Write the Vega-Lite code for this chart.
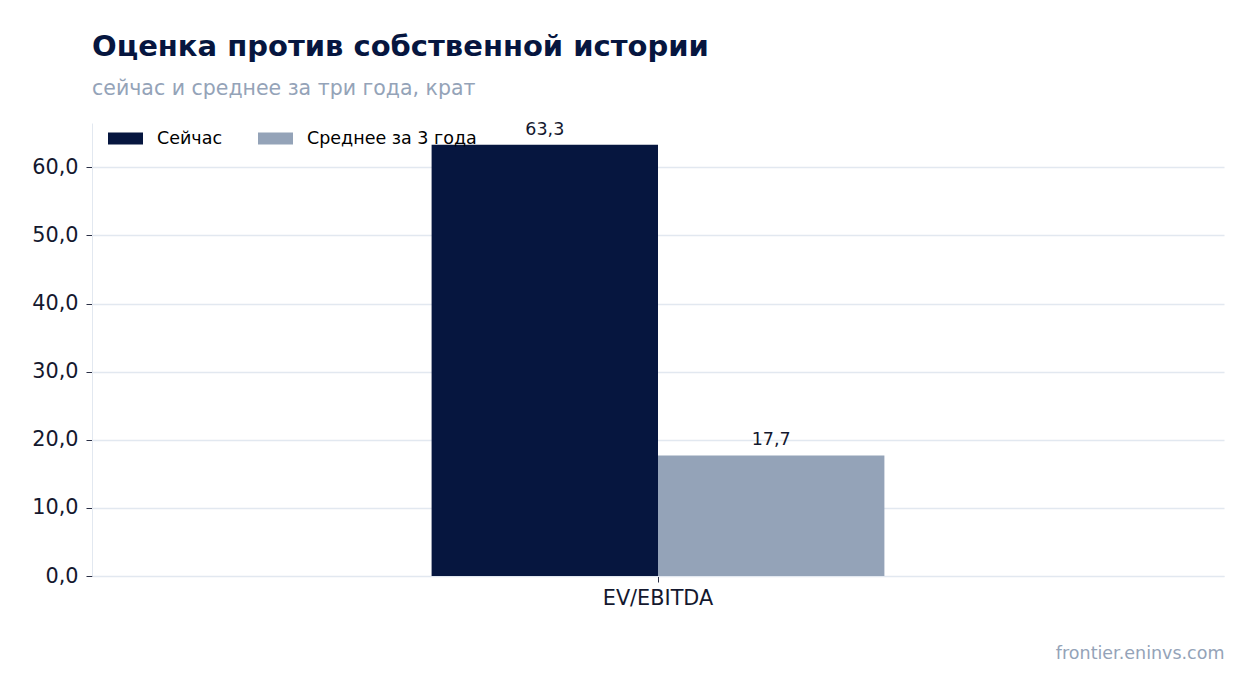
{
  "$schema": "https://vega.github.io/schema/vega-lite/v6.json",
  "width": 1132,
  "height": 453,
  "autosize": "none",
  "padding": {"left": 92, "top": 123, "right": 30, "bottom": 117},
  "background": "white",
  "title": {
    "text": "Оценка против собственной истории",
    "subtitle": "сейчас и среднее за три года, крат",
    "anchor": "start",
    "frame": "group",
    "font": "DejaVu Sans",
    "fontSize": 29,
    "fontWeight": "bold",
    "color": "#06163f",
    "subtitleFont": "DejaVu Sans",
    "subtitleFontSize": 20.5,
    "subtitleColor": "#94a3b8",
    "subtitlePadding": 17,
    "offset": 21
  },
  "data": {
    "values": [
      {"metric": "EV/EBITDA", "series": "Сейчас", "value": 63.3},
      {"metric": "EV/EBITDA", "series": "Среднее за 3 года", "value": 17.7}
    ]
  },
  "encoding": {
    "x": {
      "field": "metric",
      "type": "nominal",
      "scale": {"paddingInner": 0, "paddingOuter": 0.75},
      "axis": {
        "title": "frontier.eninvs.com",
        "titleFont": "DejaVu Sans",
        "titleFontSize": 17.5,
        "titleFontWeight": "normal",
        "titleColor": "#94a3b8",
        "titleAlign": "right",
        "titleAnchor": "end",
        "titleX": 1132,
        "titleY": 82,
        "titleBaseline": "alphabetic",
        "labelAngle": 0,
        "labelFont": "DejaVu Sans",
        "labelFontSize": 20.8,
        "labelColor": "#14182e",
        "labelPadding": 6,
        "tickColor": "#2a2f45",
        "tickSize": 6,
        "domainColor": "#e2e8f0",
        "grid": false
      }
    },
    "xOffset": {"field": "series", "type": "nominal", "sort": ["Сейчас", "Среднее за 3 года"]},
    "y": {
      "field": "value",
      "type": "quantitative",
      "scale": {"domain": [0, 66.5], "nice": false},
      "axis": {
        "title": null,
        "values": [0, 10, 20, 30, 40, 50, 60],
        "format": ".1f",
        "labelFont": "DejaVu Sans",
        "labelFontSize": 20.8,
        "labelColor": "#14182e",
        "labelPadding": 8,
        "tickColor": "#2a2f45",
        "tickSize": 6,
        "domainColor": "#e2e8f0",
        "gridColor": "#e2e8f0",
        "gridWidth": 1.3
      }
    }
  },
  "layer": [
    {
      "mark": {"type": "bar"},
      "encoding": {
        "color": {
          "field": "series",
          "type": "nominal",
          "sort": ["Сейчас", "Среднее за 3 года"],
          "scale": {"range": ["#06163f", "#94a3b8"]},
          "legend": {
            "title": null,
            "orient": "none",
            "legendX": 16,
            "legendY": -2,
            "direction": "horizontal",
            "symbolType": "M-1,-0.343H1V0.343H-1Z",
            "symbolSize": 1225,
            "symbolStrokeWidth": 0,
            "labelFont": "DejaVu Sans",
            "labelFontSize": 17.5,
            "labelColor": "#000000",
            "labelLimit": 400,
            "labelOffset": 14,
            "columnPadding": 35
          }
        }
      }
    },
    {
      "mark": {"type": "text", "baseline": "bottom", "dy": -6, "font": "DejaVu Sans", "fontSize": 17.5, "color": "#14182e"},
      "encoding": {
        "text": {"field": "value", "type": "quantitative", "format": ".1f"}
      }
    }
  ],
  "config": {
    "locale": {
      "number": {"decimal": ",", "thousands": " ", "grouping": [3], "currency": ["", ""]}
    },
    "view": {"stroke": null}
  }
}
